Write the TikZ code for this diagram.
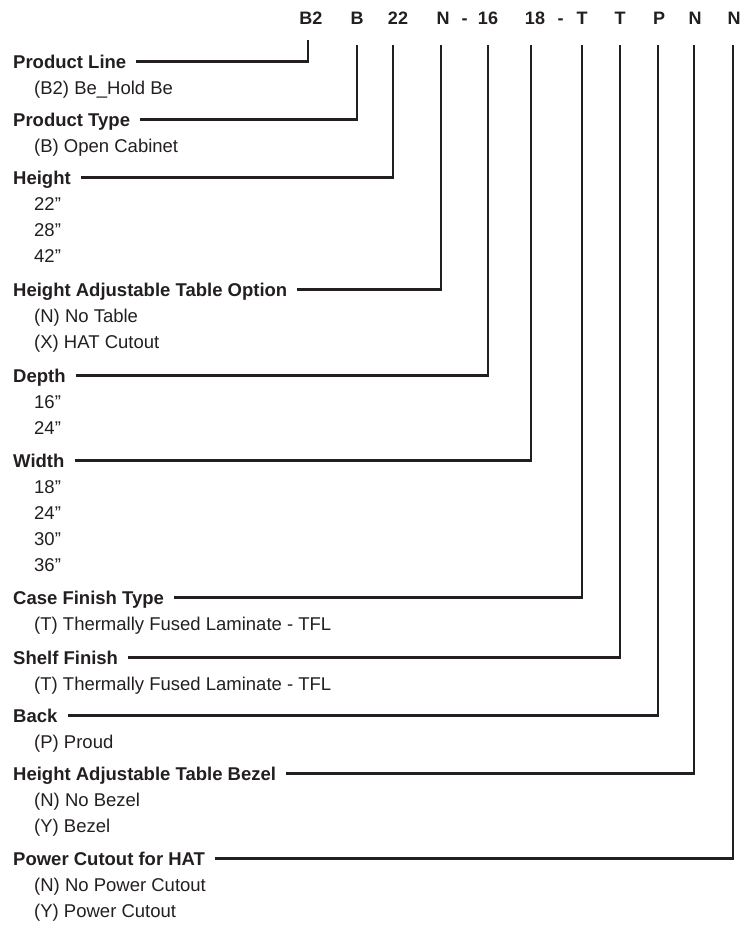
\documentclass[tikz,border=0pt]{standalone}
\usepackage{fontspec}
\setmainfont{Liberation Sans}
\usetikzlibrary{positioning}
\definecolor{ink}{HTML}{231F20}

\begin{document}
\begin{tikzpicture}[x=1pt, y=-1pt,
  codebox/.style={font=\bfseries\fontsize{18}{20}\selectfont, text=ink,
    inner sep=0pt, text height=13pt, text depth=0pt, anchor=base},
  keylabel/.style={font=\bfseries\fontsize{18.5}{21}\selectfont, text=ink,
    inner sep=0pt, text height=13pt, text depth=0pt, anchor=base west},
  optlabel/.style={font=\fontsize{18.5}{21}\selectfont, text=ink,
    inner sep=0pt, anchor=base west},
  leader/.style={draw=ink, line width=2.4pt, shorten <=10pt, shorten >=21pt}]
\useasboundingbox (0,0) rectangle (741,926);

% model code along the top
\node[codebox] (cline)   at (311,24) {B2};
\node[codebox] (ctype)   at (357,24) {B};
\node[codebox] (cheight) at (398,24) {22};
\node[codebox] (ctable)  at (443,24) {N};
\node[codebox] (dashA)   at (464.5,24) {-};
\node[codebox] (cdepth)  at (488,24) {16};
\node[codebox] (cwidth)  at (535,24) {18};
\node[codebox] (dashB)   at (560.5,24) {-};
\node[codebox] (ccase)   at (582,24) {T};
\node[codebox] (cshelf)  at (620,24) {T};
\node[codebox] (cback)   at (659,24) {P};
\node[codebox] (cbezel)  at (695,24) {N};
\node[codebox] (cpower)  at (734,24) {N};

% headings and their options
\node[keylabel] (pline) at (13,68) {Product Line};
\node[optlabel] (oB2) at (34,94) {(B2) Be\_Hold Be};
\node[keylabel] (ptype) at (13,126) {Product Type};
\node[optlabel] (oB) at (34,152) {(B) Open Cabinet};
\node[keylabel] (height) at (13,184) {Height};
\node[optlabel] (oH22) at (34,210) {22”};
\node[optlabel] (oH28) at (34,236) {28”};
\node[optlabel] (oH42) at (34,262) {42”};
\node[keylabel] (hatopt) at (13,296) {Height Adjustable Table Option};
\node[optlabel] (oTN) at (34,322) {(N) No Table};
\node[optlabel] (oTX) at (34,348) {(X) HAT Cutout};
\node[keylabel] (depth) at (13,382) {Depth};
\node[optlabel] (oD16) at (34,408) {16”};
\node[optlabel] (oD24) at (34,434) {24”};
\node[keylabel] (width) at (13,467) {Width};
\node[optlabel] (oW18) at (34,493) {18”};
\node[optlabel] (oW24) at (34,519) {24”};
\node[optlabel] (oW30) at (34,545) {30”};
\node[optlabel] (oW36) at (34,571) {36”};
\node[keylabel] (casefin) at (13,604) {Case Finish Type};
\node[optlabel] (oCT) at (34,630) {(T) Thermally Fused Laminate - TFL};
\node[keylabel] (shelffin) at (13,664) {Shelf Finish};
\node[optlabel] (oST) at (34,690) {(T) Thermally Fused Laminate - TFL};
\node[keylabel] (back) at (13,722) {Back};
\node[optlabel] (oBP) at (34,748) {(P) Proud};
\node[keylabel] (hatbez) at (13,780) {Height Adjustable Table Bezel};
\node[optlabel] (oZN) at (34,806) {(N) No Bezel};
\node[optlabel] (oZY) at (34,832) {(Y) Bezel};
\node[keylabel] (power) at (13,865) {Power Cutout for HAT};
\node[optlabel] (oPN) at (34,891) {(N) No Power Cutout};
\node[optlabel] (oPY) at (34,917) {(Y) Power Cutout};

% leaders from headings up to the code
\draw[leader, shorten >=16pt] (pline.east) -| ([xshift=-3pt]cline.south);
\draw[leader] (ptype.east) -| (ctype.south);
\draw[leader] (height.east) -| ([xshift=-5pt]cheight.south);
\draw[leader] (hatopt.east) -| ([xshift=-2pt]ctable.south);
\draw[leader] (depth.east) -| (cdepth.south);
\draw[leader] (width.east) -| ([xshift=-4pt]cwidth.south);
\draw[leader] (casefin.east) -| (ccase.south);
\draw[leader] (shelffin.east) -| (cshelf.south);
\draw[leader] (back.east) -| ([xshift=-1pt]cback.south);
\draw[leader] (hatbez.east) -| ([xshift=-1pt]cbezel.south);
\draw[leader] (power.east) -| ([xshift=-1pt]cpower.south);
\end{tikzpicture}
\end{document}
